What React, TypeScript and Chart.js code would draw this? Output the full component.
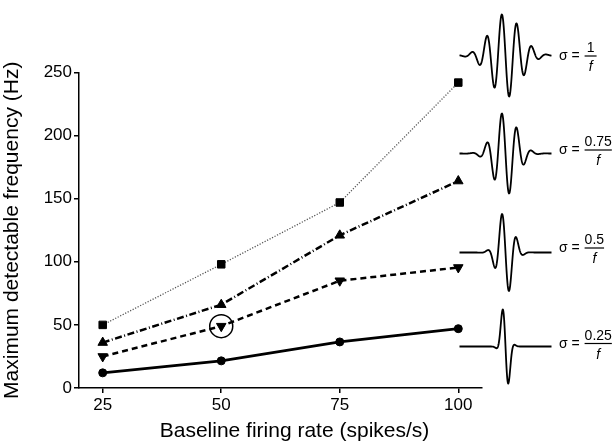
import React, { useEffect, useRef } from "react";
import { Chart, registerables } from "chart.js";

Chart.register(...registerables);

const FONT = "'Liberation Sans', Arial, Helvetica, sans-serif";

// ---- data ----
const firingRates = [25, 50, 75, 100];
const xTicks = [25, 50, 75, 100];
const yTicks = [0, 50, 100, 150, 200, 250];
const sigma025 = [12, 21.5, 36.5, 47];
const sigma05 = [25, 49, 85, 95.5];
const sigma075 = [36, 66, 121, 164];
const sigma1 = [50, 98, 147, 242];
const highlightX = [50];
const highlightY = [49];
const waveletSigmas = [1, 0.75, 0.5, 0.25];
const waveletLabels = ["1", "0.75", "0.5", "0.25"];

const xTitle = "Baseline firing rate (spikes/s)";
const yTitle = "Maximum detectable frequency (Hz)";

// wavelet illustration plugin (decorative, drawn beside the plot)
const waveletPlugin = {
  id: "wavelets",
  afterDraw(chart: any) {
    const ctx = chart.ctx as CanvasRenderingContext2D;
    const area = chart.chartArea;
    const cx = area.right + 23.5;
    const baselines = [area.top - 17, area.top + 81, area.top + 180, area.top + 274];
    const labelOffsets = [0.5, -3.5, -4.5, -3];
    const amps = [41, 40, 38.5, 37];
    const period = 15;
    const half = 46;
    ctx.save();
    ctx.strokeStyle = "#000";
    ctx.lineWidth = 1.8;
    ctx.lineJoin = "round";
    waveletSigmas.forEach((k, i) => {
      const s = k * period;
      const f = (t: number) => -Math.sin((2 * Math.PI * t) / period) * Math.exp(-(t * t) / (2 * s * s));
      let mx = 0;
      for (let t = -half; t <= half; t += 0.25) mx = Math.max(mx, Math.abs(f(t)));
      ctx.beginPath();
      for (let t = -half; t <= half; t += 0.25) {
        const px = cx + t;
        const py = baselines[i] - (f(t) / mx) * amps[i];
        if (t === -half) ctx.moveTo(px, py);
        else ctx.lineTo(px, py);
      }
      ctx.stroke();

      // label
      const barY = baselines[i] + labelOffsets[i];
      ctx.fillStyle = "#000";
      ctx.font = `14px ${FONT}`;
      ctx.textAlign = "left";
      ctx.textBaseline = "middle";
      const lx = area.right + 77;
      ctx.fillText("σ =", lx, barY + 0.5);
      const sw = ctx.measureText("σ = ").width;
      const fx = lx + sw + 1;
      const nw = Math.max(ctx.measureText(waveletLabels[i]).width, 12);
      ctx.textAlign = "center";
      ctx.textBaseline = "alphabetic";
      ctx.fillText(waveletLabels[i], fx + nw / 2, barY - 4);
      ctx.beginPath();
      ctx.lineWidth = 1.2;
      ctx.moveTo(fx, barY);
      ctx.lineTo(fx + nw, barY);
      ctx.stroke();
      ctx.lineWidth = 1.8;
      ctx.font = `italic 14px ${FONT}`;
      ctx.fillText("f", fx + nw / 2, barY + 15);
    });

    // x axis title
    ctx.fillStyle = "#000";
    ctx.font = `21px ${FONT}`;
    ctx.textAlign = "center";
    ctx.textBaseline = "middle";
    ctx.fillText(xTitle, (area.left + area.right) / 2 + 14, chart.height - 13);
    ctx.restore();
  },
};

export default function App() {
  const ref = useRef<HTMLCanvasElement | null>(null);
  useEffect(() => {
    if (!ref.current) return;
    Chart.defaults.font.family = FONT;
    const mk = (ys: number[]) => firingRates.map((x, i) => ({ x, y: ys[i] }));
    const chart = new Chart(ref.current, {
      type: "scatter",
      data: {
        datasets: [
          {
            label: "highlight",
            data: highlightX.map((x, i) => ({ x, y: highlightY[i] })),
            showLine: false,
            pointRadius: 11.5,
            pointStyle: "circle",
            backgroundColor: "rgba(0,0,0,0)",
            borderColor: "#000",
            borderWidth: 1.5,
          },
          {
            label: "σ = 0.25/f",
            data: mk(sigma025),
            showLine: true,
            borderColor: "#000",
            backgroundColor: "#000",
            borderWidth: 2.8,
            pointStyle: "circle",
            pointRadius: 4,
            pointBorderWidth: 1,
          },
          {
            label: "σ = 0.5/f",
            data: mk(sigma05),
            showLine: true,
            borderColor: "#000",
            backgroundColor: "#000",
            borderWidth: 2.5,
            borderDash: [6, 4],
            pointStyle: "triangle",
            rotation: 180,
            pointRadius: 5.5,
            pointBorderWidth: 1,
          },
          {
            label: "σ = 0.75/f",
            data: mk(sigma075),
            showLine: true,
            borderColor: "#000",
            backgroundColor: "#000",
            borderWidth: 2.5,
            borderDash: [7, 2.5, 1, 2.5],
            pointStyle: "triangle",
            pointRadius: 5.5,
            pointBorderWidth: 1,
          },
          {
            label: "σ = 1/f",
            data: mk(sigma1),
            showLine: true,
            borderColor: "#555",
            backgroundColor: "#000",
            pointBorderColor: "#000",
            borderWidth: 1.3,
            borderDash: [1.2, 1.6],
            pointStyle: "rect",
            pointRadius: 5.3,
            pointBorderWidth: 1,
          },
        ],
      },
      options: {
        animation: false,
        responsive: true,
        maintainAspectRatio: false,
        layout: { padding: { left: 0, right: 131, top: 72.5, bottom: 0 } },
        plugins: { legend: { display: false }, tooltip: { enabled: false } },
        scales: {
          x: {
            type: "linear",
            min: 20,
            max: 105,
            afterBuildTicks: (s: any) => {
              s.ticks = xTicks.map((v) => ({ value: v }));
            },
            afterFit: (s: any) => {
              s.height = 56;
            },
            ticks: { color: "#000", font: { size: 17 }, padding: 2 },
            grid: { drawOnChartArea: false, drawTicks: true, tickLength: 5, color: "#000", lineWidth: 1.5 },
            border: { display: true, color: "#000", width: 1.5 },
            title: { display: false },
          },
          y: {
            min: 0,
            max: 250,
            afterBuildTicks: (s: any) => {
              s.ticks = yTicks.map((v) => ({ value: v }));
            },
            afterFit: (s: any) => {
              s.width = 79;
            },
            ticks: { color: "#000", font: { size: 17 }, padding: 2 },
            grid: { drawOnChartArea: false, drawTicks: true, tickLength: 5, color: "#000", lineWidth: 1.5 },
            border: { display: true, color: "#000", width: 1.5 },
            title: { display: true, text: yTitle, color: "#000", font: { size: 21 }, padding: 0 },
          },
        },
      },
      plugins: [waveletPlugin],
    } as any);
    return () => chart.destroy();
  }, []);
  return (
    <div style={{ position: "fixed", left: 0, top: 0, width: 613, height: 444, background: "#fff" }}>
      <canvas ref={ref} />
    </div>
  );
}
